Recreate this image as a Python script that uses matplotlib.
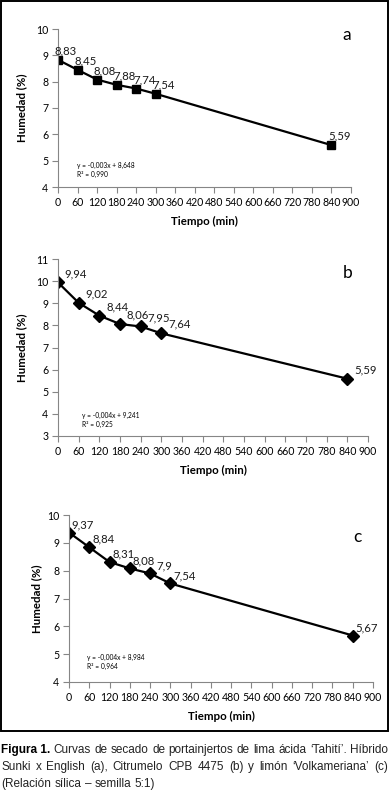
import matplotlib
matplotlib.use("Agg")
import matplotlib.pyplot as plt
from matplotlib import font_manager
from matplotlib.patches import Rectangle

# datos de los tres portainjertos
tiempo = [0, 60, 120, 180, 240, 300, 840]
hum_a = [8.83, 8.45, 8.08, 7.88, 7.74, 7.54, 5.59]
hum_b = [9.94, 9.02, 8.44, 8.06, 7.95, 7.64, 5.59]
hum_c = [9.37, 8.84, 8.31, 8.08, 7.90, 7.54, 5.67]
etq_a = ["8,83", "8,45", "8,08", "7,88", "7,74", "7,54", "5,59"]
etq_b = ["9,94", "9,02", "8,44", "8,06", "7,95", "7,64", "5,59"]
etq_c = ["9,37", "8,84", "8,31", "8,08", "7,9", "7,54", "5,67"]
ecuaciones = [
    ("y = -0,003x + 8,648", "R² = 0,990"),
    ("y = -0,004x + 9,241", "R² = 0,925"),
    ("y = -0,004x + 8,984", "R² = 0,964"),
]
xticks = list(range(0, 901, 60))

instalados = {f.name for f in font_manager.fontManager.ttflist}
fuente = "Lato" if "Lato" in instalados else "DejaVu Sans"
fuente_pie = "Liberation Sans Narrow" if "Liberation Sans Narrow" in instalados else "Liberation Sans"
plt.rcParams["font.family"] = [fuente, "DejaVu Sans"]

W, H = 391, 792
fig = plt.figure(figsize=(W / 100, H / 100), dpi=100)


def caja(izq, der, arriba, abajo):
    return [izq / W, 1 - abajo / H, (der - izq) / W, (abajo - arriba) / H]


paneles = [
    dict(pos=caja(58, 351, 29, 187), y=hum_a, etq=etq_a, ylim=(4, 10), marker="s",
         off=(8, 9), letra="a", lpos=(347, 35), eq=(77, 165), ylab_x=27),
    dict(pos=caja(58, 368, 259, 436), y=hum_b, etq=etq_b, ylim=(3, 11), marker="D",
         off=(18, 9), letra="b", lpos=(348, 273), eq=(82, 415), ylab_x=27),
    dict(pos=caja(69, 373, 515, 682), y=hum_c, etq=etq_c, ylim=(4, 10), marker="D",
         off=(14, 8), letra="c", lpos=(357, 537), eq=(87, 657), ylab_x=42),
]

gris = "#868686"
for p, (eq1, eq2) in zip(paneles, ecuaciones):
    ax = fig.add_axes(p["pos"])
    ms = 6.3 if p["marker"] == "s" else 6
    ax.plot(tiempo, p["y"], color="black", linewidth=1.6, marker=p["marker"],
            markersize=ms, markerfacecolor="black", markeredgecolor="black")
    for xv, yv, t in zip(tiempo, p["y"], p["etq"]):
        ax.annotate(t, (xv, yv), xytext=p["off"], textcoords="offset pixels",
                    ha="center", va="center", fontsize=8.2, color="#1a1a1a")
    ax.set_xlim(0, 900)
    ax.set_ylim(*p["ylim"])
    ax.set_xticks(xticks)
    ax.set_yticks(range(p["ylim"][0], p["ylim"][1] + 1))
    ax.tick_params(axis="both", direction="out", length=4, width=0.8, color=gris,
                   labelsize=7.6, pad=3)
    for s in ["top", "right"]:
        ax.spines[s].set_visible(False)
    for s in ["left", "bottom"]:
        ax.spines[s].set_color(gris)
        ax.spines[s].set_linewidth(0.8)
    ax.set_xlabel("Tiempo (min)", fontsize=8.3, fontweight="bold", labelpad=6)
    ax.set_ylabel("Humedad (%)", fontsize=8.3, fontweight="bold")
    ymid = p["pos"][1] + p["pos"][3] / 2
    ax.yaxis.set_label_coords(p["ylab_x"] / W, ymid, transform=fig.transFigure)
    fig.text(p["lpos"][0] / W, 1 - p["lpos"][1] / H, p["letra"], fontsize=12.5,
             ha="center", va="center")
    fig.text(p["eq"][0] / W, 1 - p["eq"][1] / H, eq1, fontsize=4.8, va="center")
    fig.text(p["eq"][0] / W, 1 - (p["eq"][1] + 9) / H, eq2, fontsize=4.8, va="center")

# marco exterior
fig.add_artist(Rectangle((1 / W, 1 - 731 / H), 387 / W, 730 / H, transform=fig.transFigure,
                         fill=False, edgecolor="black", linewidth=1.4))

# pie de figura justificado
lineas = [
    ["Figura 1.", "Curvas", "de", "secado", "de", "portainjertos", "de", "lima", "ácida",
     "‘Tahití’.", "Híbrido"],
    ["Sunki", "x", "English", "(a),", "Citrumelo", "CPB", "4475", "(b)", "y", "limón",
     "‘Volkameriana’", "(c)"],
    ["(Relación", "sílica", "–", "semilla", "5:1)"],
]
ys = [750, 767, 784]
fig.canvas.draw()
rend = fig.canvas.get_renderer()

# tamaño de letra ajustado para que la primera línea llene el ancho con espacios normales
prueba = fig.text(0, 0, " ".join(lineas[0]), fontsize=10, family=[fuente_pie, "DejaVu Sans"])
ancho_10 = prueba.get_window_extent(rend).width
prueba.remove()
tam = min(10.0, 10.0 * 382 / ancho_10)
espacio = tam * 0.3 * 100 / 72

for i, (palabras, yl) in enumerate(zip(lineas, ys)):
    txts = []
    for j, w in enumerate(palabras):
        bold = i == 0 and j == 0
        t = fig.text(0, 1 - yl / H, w, fontsize=tam, family=[fuente_pie, "DejaVu Sans"],
                     fontweight="bold" if bold else "normal", va="center",
                     color="black" if bold else "#222222")
        txts.append(t)
    anchos = [t.get_window_extent(rend).width for t in txts]
    if i < 2:
        hueco = (388 - 1 - sum(anchos)) / (len(txts) - 1)
    else:
        hueco = espacio
    x = 1
    for t, a in zip(txts, anchos):
        t.set_x(x / W)
        x += a + hueco

fig.savefig("out.png", dpi=100)
